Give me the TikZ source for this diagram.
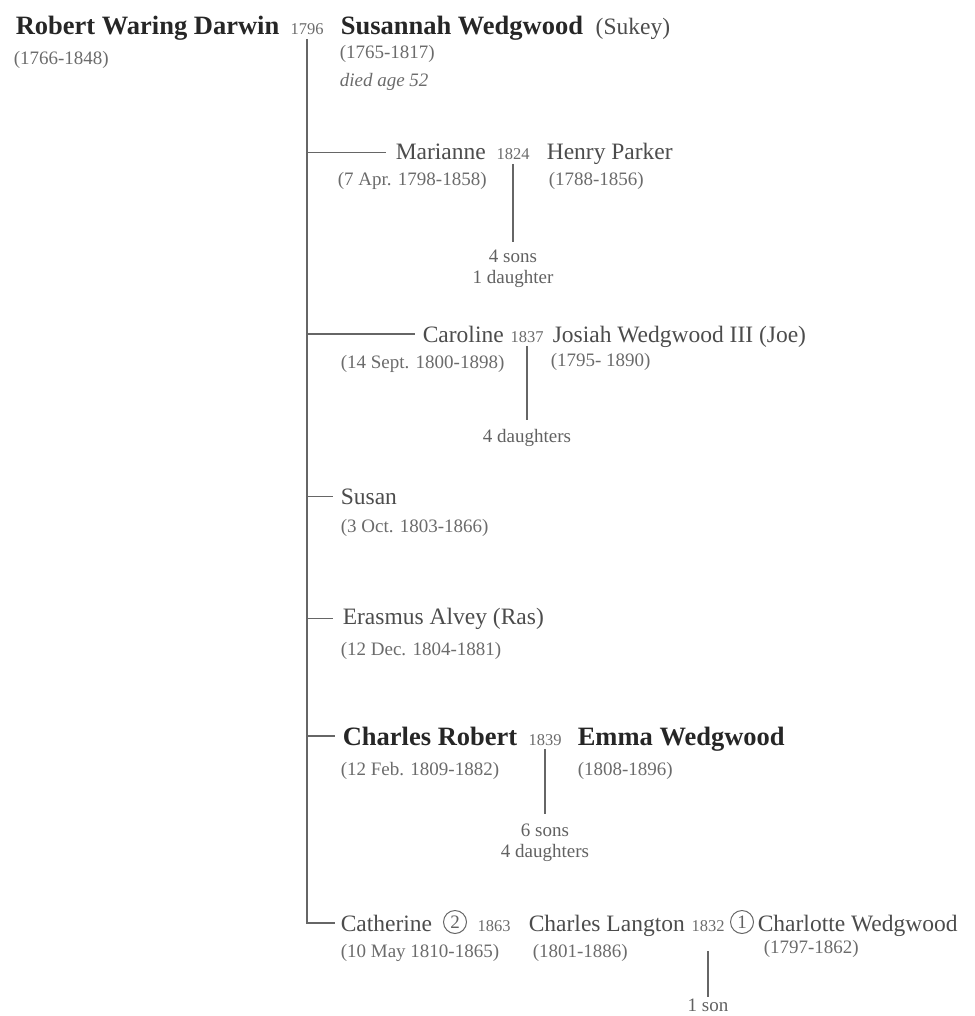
\documentclass[tikz,border=0pt]{standalone}
\usepackage{fontspec}
\setmainfont{Liberation Serif}
\usetikzlibrary{positioning}

\begin{document}
\begin{tikzpicture}[x=1pt,y=-1pt,line width=1.6pt,draw=black!60]
    \tikzstyle{person}=[inner sep=0pt,anchor=base west,text=black!70,font=\fontsize{23.5}{26}\selectfont]
    \tikzstyle{bold person}=[person,text=black!85,font=\fontsize{26.5}{30}\selectfont\bfseries]
    \tikzstyle{dates}=[person,text=black!58,font=\fontsize{19}{21}\selectfont]
    \tikzstyle{year}=[inner sep=3pt,anchor=base,text=black!58,font=\fontsize{16.5}{18}\selectfont]
    \tikzstyle{issue}=[inner sep=0pt,align=center,text=black!62,font=\fontsize{19}{21}\selectfont]
    \tikzstyle{order}=[circle,draw,line width=1pt,minimum size=23pt,inner sep=0pt,text=black!62,font=\fontsize{19}{21}\selectfont]

    \useasboundingbox (0,0) rectangle (974,1016);

    % Draw the parents
    \node[bold person] (robert) at (15,35) {Robert Waring Darwin};
    \node[dates] (robert-d) at (13,65) {(1766-1848)};
    \node[year] (y1796) at (307,35) {1796};
    \node[bold person] (susannah) at (340,35) {Susannah Wedgwood};
    \node[person, base right=11pt of susannah] (sukey) {(Sukey)};
    \node[dates] (susannah-d) at (339,59) {(1765-1817)};
    \node[dates,font=\fontsize{19}{21}\selectfont\itshape] (susannah-x) at (339,87) {died age 52};

    % Marianne
    \node[person] (marianne) at (395,160) {Marianne};
    \node[year] (y1824) at (513,160) {1824};
    \node[person] (henry) at (546,160) {Henry Parker};
    \node[dates] (marianne-d) at (337,186) {(7 Apr. 1798-1858)};
    \node[dates] (henry-d) at (548,186) {(1788-1856)};
    \node[issue,below=85pt of y1824] (marianne-i) {4 sons\\1 daughter};

    % Caroline
    \node[person] (caroline) at (422,342) {Caroline};
    \node[year] (y1837) at (527,342) {1837};
    \node[person] (josiah) at (552,342) {Josiah Wedgwood III (Joe)};
    \node[dates] (caroline-d) at (340,368) {(14 Sept. 1800-1898)};
    \node[dates] (josiah-d) at (550,366) {(1795- 1890)};
    \node[issue,below=83pt of y1837] (caroline-i) {4 daughters};

    % Susan and Erasmus
    \node[person] (susan) at (340,504) {Susan};
    \node[dates] (susan-d) at (340,532) {(3 Oct. 1803-1866)};
    \node[person] (erasmus) at (342,624) {Erasmus Alvey (Ras)};
    \node[dates] (erasmus-d) at (340,655) {(12 Dec. 1804-1881)};

    % Charles
    \node[bold person] (charles) at (342,745) {Charles Robert};
    \node[year] (y1839) at (545,745) {1839};
    \node[bold person] (emma) at (577,745) {Emma Wedgwood};
    \node[dates] (charles-d) at (340,775) {(12 Feb. 1809-1882)};
    \node[dates] (emma-d) at (577,775) {(1808-1896)};
    \node[issue,below=74pt of y1839] (charles-i) {6 sons\\4 daughters};

    % Catherine and the Langtons
    \node[person] (catherine) at (340,931) {Catherine};
    \node[order] (catherine-o) at (455,922) {2};
    \node[year] (y1863) at (494,931) {1863};
    \node[person] (langton) at (528,931) {Charles Langton};
    \node[year] (y1832) at (708,931) {1832};
    \node[order] (charlotte-o) at (742,922) {1};
    \node[person] (charlotte) at (757,931) {Charlotte Wedgwood};
    \node[dates] (catherine-d) at (340,957) {(10 May 1810-1865)};
    \node[dates] (langton-d) at (532,957) {(1801-1886)};
    \node[dates] (charlotte-d) at (763,953) {(1797-1862)};
    \node[issue,below=63pt of y1832] (langton-i) {1 son};

    % Draw the trunk down to the last child
    \coordinate (trunk) at (y1796.south);
    \draw[shorten >=5pt] (trunk) -- (trunk |- catherine.west) -- (catherine.west);

    % Connect the trunk with every other child
    \foreach \child / \gap in {marianne/9,caroline/7,susan/7,erasmus/9,charles/7}
        \draw[shorten >=\gap pt] (trunk |- \child.west) -- (\child.west);

    % Connect every marriage with its issue
    \draw[shorten >=7pt] (y1824) -- (marianne-i);
    \draw[shorten >=9pt] (y1837) -- (caroline-i);
    \draw[shorten >=9pt] (y1839) -- (charles-i);
    \draw[shorten <=16pt,shorten >=1pt] (y1832) -- (langton-i);
\end{tikzpicture}
\end{document}
